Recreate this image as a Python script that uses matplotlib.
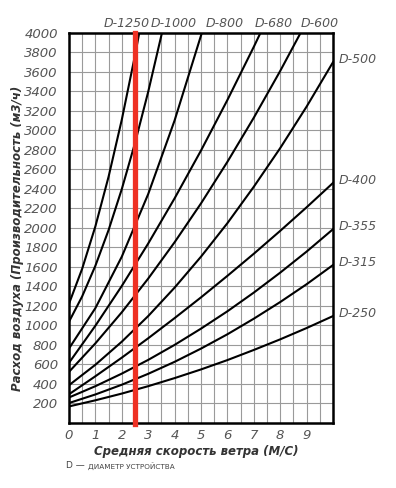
import numpy as np
import matplotlib
matplotlib.use('Agg')
import matplotlib.pyplot as plt
from matplotlib.ticker import MultipleLocator

# wind speed (m/s) and air flow (m3/h) for each diameter
d1250_v = [0, 0.5, 1, 1.5, 2, 2.5, 2.66]
d1250_q = [1220, 1580, 2015, 2525, 3110, 3770, 4000]
d1000_v = [0, 0.5, 1, 1.5, 2, 2.5, 3, 3.52]
d1000_q = [1035, 1296, 1610, 1977, 2397, 2870, 3396, 4000]
d800_v = [0, 1, 2, 3, 4, 5.03]
d800_q = [760, 1175, 1703, 2346, 3102, 4000]
d680_v = [0, 1, 2, 3, 4, 5, 6, 7, 7.25]
d680_q = [613, 994, 1402, 1838, 2302, 2793, 3312, 3858, 4000]
d600_v = [0, 1, 2, 3, 4, 5, 6, 7, 8, 8.77]
d600_q = [520, 813, 1132, 1478, 1851, 2250, 2677, 3130, 3610, 4000]
v_full = [0, 1, 2, 3, 4, 5, 6, 7, 8, 9, 10]
d500_q = [383, 593, 830, 1093, 1385, 1703, 2047, 2421, 2818, 3244, 3700]
d400_q = [290, 475, 666, 865, 1072, 1285, 1506, 1733, 1968, 2210, 2460]
d355_q = [257, 373, 502, 643, 797, 964, 1142, 1334, 1539, 1755, 1985]
d315_q = [200, 288, 388, 500, 623, 759, 906, 1066, 1237, 1420, 1617]
d250_q = [165, 228, 297, 373, 456, 545, 641, 745, 854, 970, 1093]

top_names = ['D-1250', 'D-1000', 'D-800', 'D-680', 'D-600']
top_curves = [(d1250_v, d1250_q), (d1000_v, d1000_q), (d800_v, d800_q),
              (d680_v, d680_q), (d600_v, d600_q)]
top_label_x = [2.2, 3.95, 5.9, 7.75, 9.5]
side_names = ['D-500', 'D-400', 'D-355', 'D-315', 'D-250']
side_curves = [d500_q, d400_q, d355_q, d315_q, d250_q]

red_speed = 2.5

fig = plt.figure(figsize=(3.96, 4.88), dpi=100)
ax = fig.add_axes([69 / 396, 1 - 422.5 / 488, 264 / 396, 389.5 / 488])

for v, q in top_curves:
    ax.plot(v, q, color='black', lw=1.5, solid_capstyle='butt', zorder=3)
for q in side_curves:
    ax.plot(v_full, q, color='black', lw=1.5, zorder=3)

ax.axvline(red_speed, color='#ee3124', lw=3.8, zorder=4, clip_on=False,
           ymin=-0.005, ymax=1.0)

ax.set_xlim(0, 10)
ax.set_ylim(0, 4000)
ax.xaxis.set_major_locator(MultipleLocator(1))
ax.xaxis.set_minor_locator(MultipleLocator(0.5))
ax.yaxis.set_major_locator(MultipleLocator(200))
ax.grid(which='both', color='#9a9a9a', lw=0.8, zorder=1)
ax.set_axisbelow(True)

ax.set_xticks(range(10))
ax.set_xticklabels([str(i) for i in range(10)])
ax.set_yticks(range(200, 4001, 200))
ax.set_yticklabels([str(i) for i in range(200, 4001, 200)])
ax.tick_params(which='both', length=0)
ax.tick_params(axis='y', pad=8)
ax.tick_params(axis='x', pad=5)
for lab in ax.get_xticklabels() + ax.get_yticklabels():
    lab.set_fontstyle('italic')
    lab.set_fontsize(9.5)
    lab.set_color('#555555')

for s in ax.spines.values():
    s.set_linewidth(1.8)
    s.set_color('black')

for name, x in zip(top_names, top_label_x):
    ax.text(x, 4100, name, ha='center', va='center', fontsize=9,
            style='italic', color='#555555', clip_on=False)
for name, q in zip(side_names, side_curves):
    ax.text(10.2, q[-1] + 30, name, ha='left', va='center', fontsize=9,
            style='italic', color='#555555', clip_on=False)

fig.text(18 / 396, 1 - 238 / 488, 'Расход воздуха (Производительность (м3/ч)',
         rotation=90, ha='center', va='center', fontsize=8.5,
         fontweight='bold', style='italic', color='#333333')
fig.text(196 / 396, 1 - 452 / 488, 'Средняя скорость ветра (М/С)',
         ha='center', va='center', fontsize=8.5,
         fontweight='bold', style='italic', color='#333333')
fig.text(66 / 396, 1 - 466 / 488, 'D —', ha='left', va='center',
         fontsize=6.5, color='#444444')
fig.text(88 / 396, 1 - 466 / 488, 'ДИАМЕТР УСТРОЙСТВА', ha='left',
         va='center', fontsize=5.2, color='#444444')

fig.savefig('out.png', dpi=100, facecolor='white')
